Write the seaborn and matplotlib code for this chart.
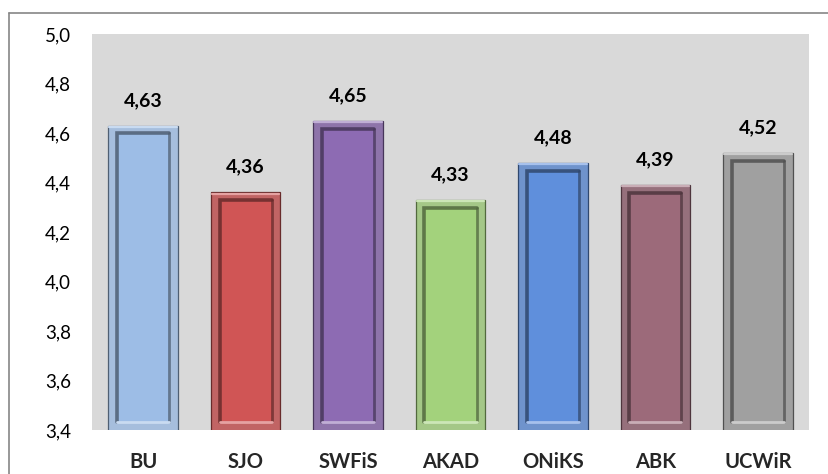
import matplotlib
matplotlib.use("Agg")
import matplotlib.pyplot as plt
import matplotlib.patches as mpatches
from matplotlib.lines import Line2D
from matplotlib.ticker import FuncFormatter, MultipleLocator
import matplotlib.colors as mcolors
import seaborn as sns
import pandas as pd

categories = ["BU", "SJO", "SWFiS", "AKAD", "ONiKS", "ABK", "UCWiR"]
scores = [4.63, 4.36, 4.65, 4.33, 4.48, 4.39, 4.52]
bar_colors = ["#9dbde6", "#d05555", "#8d6bb3", "#a3d27c", "#5f8fdc", "#9c6a7a", "#a0a0a0"]

df = pd.DataFrame({"unit": categories, "score": scores})

sns.set_theme(style="white")
plt.rcParams["font.family"] = ["Lato", "DejaVu Sans"]

fig = plt.figure(figsize=(8.29, 4.74), dpi=100)
ax = fig.add_axes([92 / 829, 44 / 474, (809 - 92) / 829, (430 - 34) / 474])
ax.set_facecolor("#d9d9d9")

sns.barplot(data=df, x="unit", y="score", hue="unit", palette=bar_colors,
            width=0.68, legend=False, ax=ax, zorder=3)

ymin, ymax = 3.4, 5.0
ax.set_ylim(ymin, ymax)
ax.set_xlim(-0.5, len(categories) - 0.5)

# bevelled look: darker edge, inner panel with shaded frame, soft shadow under bar
dx = 0.085
dy_top = 0.032
dy_bot = 0.032
for patch, col, val in zip(ax.patches, bar_colors, scores):
    x0 = patch.get_x()
    w = patch.get_width()
    rgb = mcolors.to_rgb(col)
    dark = tuple(c * 0.5 for c in rgb)
    light = tuple(min(1, c + (1 - c) * 0.45) for c in rgb)
    patch.set_edgecolor(dark)
    patch.set_linewidth(0.9)
    # shadow
    ax.add_patch(mpatches.Rectangle((x0 + 0.01, ymin), w, 0.012, facecolor="#bfbfbf",
                                    edgecolor="none", zorder=2.5, clip_on=False))
    # outer highlight along the top
    ax.add_line(Line2D([x0 + 0.01, x0 + w - 0.01], [val - 0.006, val - 0.006],
                       color=light, lw=1.6, zorder=4))
    # inner panel
    ix0, ix1 = x0 + dx, x0 + w - dx
    iy0, iy1 = ymin + dy_bot, val - dy_top
    ax.add_patch(mpatches.Rectangle((ix0, iy0), ix1 - ix0, iy1 - iy0, facecolor=col,
                                    edgecolor="none", zorder=4))
    ax.add_line(Line2D([ix0, ix0, ix1], [iy0, iy1, iy1], color=dark, lw=2.6,
                       alpha=0.85, zorder=5, solid_joinstyle="miter"))
    ax.add_line(Line2D([ix1, ix1], [iy1, iy0], color=dark, lw=2.0, alpha=0.75, zorder=5))
    ax.add_line(Line2D([ix0, ix1], [iy0, iy0], color=light, lw=2.0, zorder=5))
    ax.annotate(f"{val:.2f}".replace(".", ","), (x0 + w / 2, val),
                xytext=(0, 12), textcoords="offset points", ha="center", va="bottom",
                fontsize=14, fontweight="bold", color="black")

ax.yaxis.set_major_locator(MultipleLocator(0.2))
ax.yaxis.set_major_formatter(FuncFormatter(lambda v, p: f"{v:.1f}".replace(".", ",")))
ax.tick_params(axis="y", length=0, pad=15, labelsize=13.5, colors="black")
ax.tick_params(axis="x", length=0, pad=16, labelsize=14.5)
for lbl in ax.get_xticklabels():
    lbl.set_fontweight("bold")
ax.set_xlabel("")
ax.set_ylabel("")
for s in ax.spines.values():
    s.set_visible(False)
ax.grid(False)

# chart frame lines
fig.add_artist(Line2D([9.5 / 829, 9.5 / 829], [0, 1 - 12.5 / 474], color="#868686",
                      lw=1.2, transform=fig.transFigure))
fig.add_artist(Line2D([9.5 / 829, 1], [1 - 12.5 / 474, 1 - 12.5 / 474], color="#868686",
                      lw=1.2, transform=fig.transFigure))

fig.savefig("out.png", dpi=100, facecolor="white")
